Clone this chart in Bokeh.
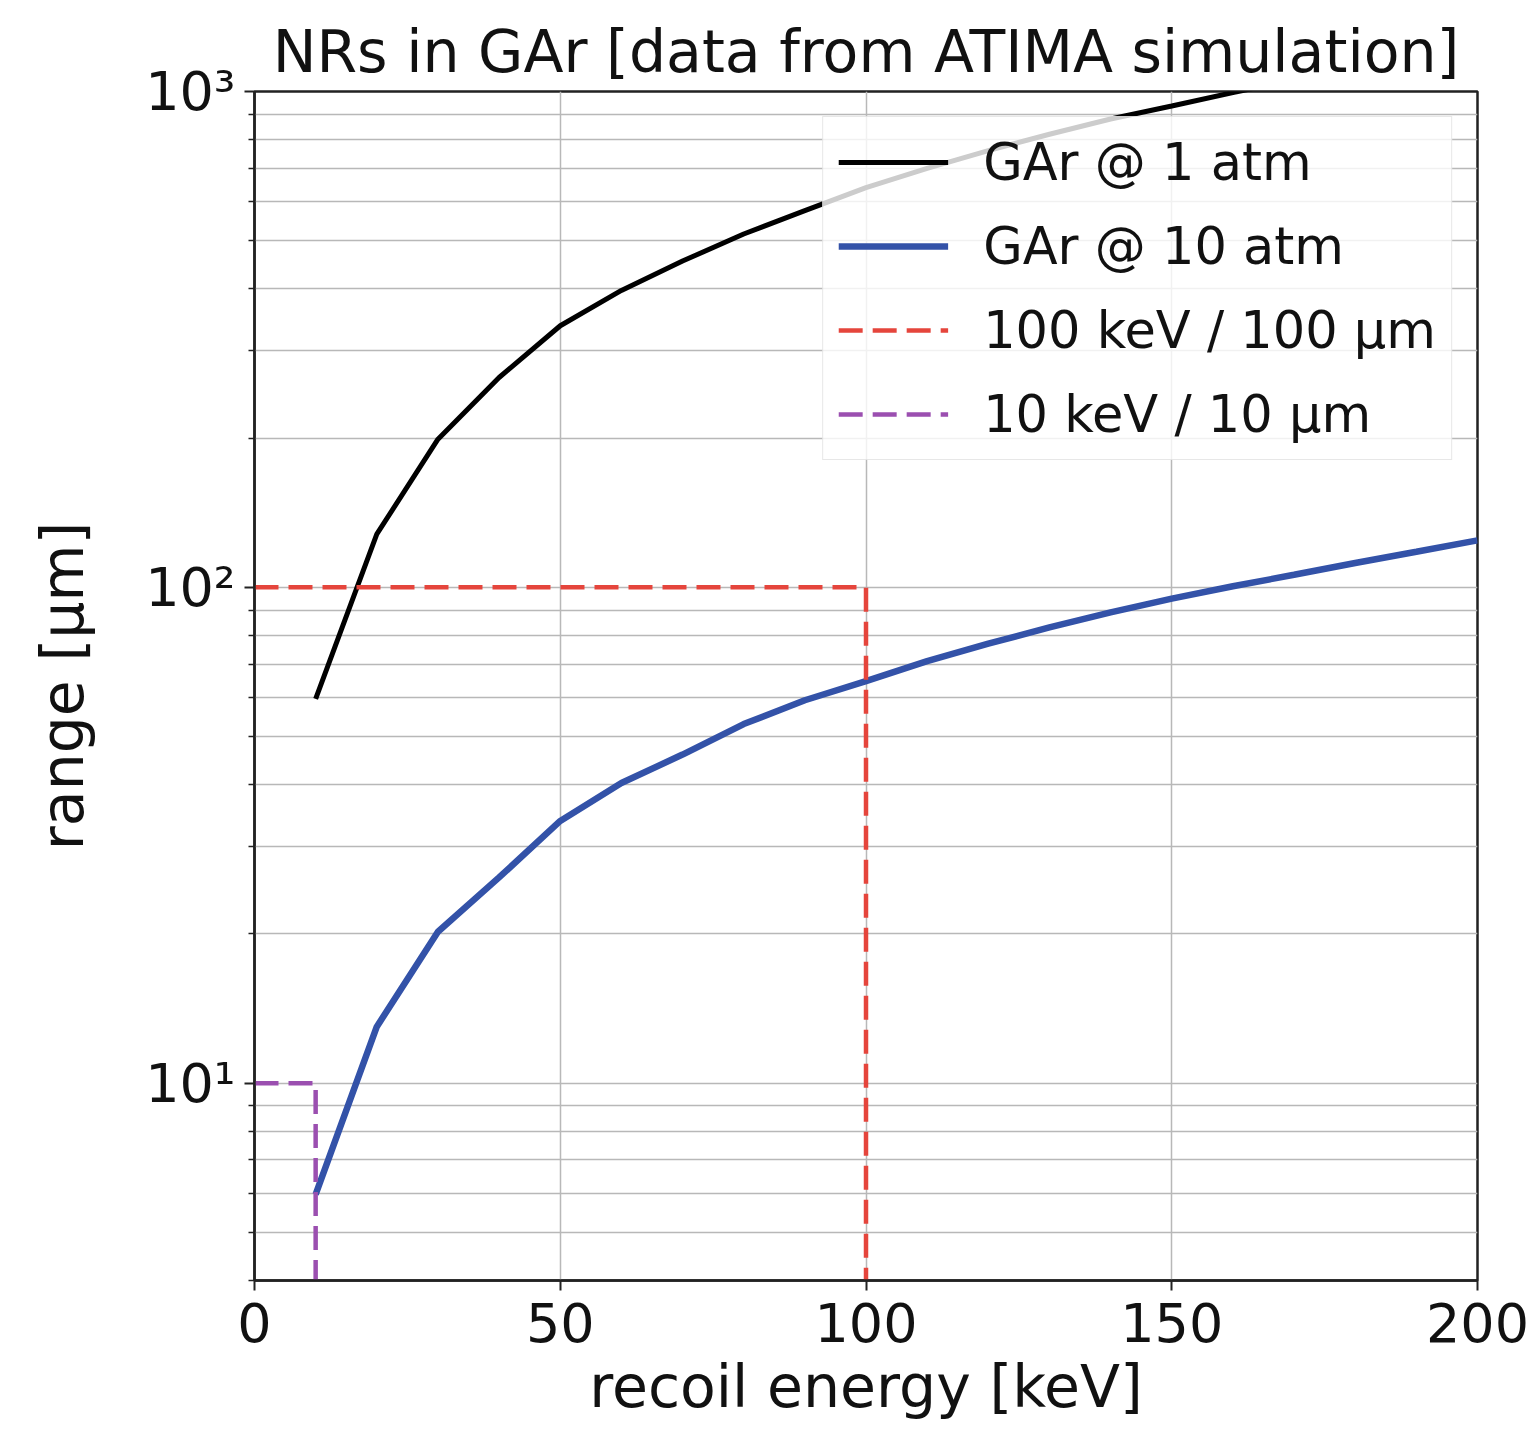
from bokeh.plotting import figure
from bokeh.models import Range1d, FixedTicker, Legend, LegendItem
from bokeh.embed import file_html
from bokeh.resources import INLINE

# ---- data ----
energy_kev = [10, 20, 30, 40, 50, 60, 70, 80, 90, 100, 110, 120, 130, 140, 150, 160, 170, 180, 190, 200]
range_1atm = [59.6, 128, 199, 265, 337, 397, 455, 516, 575, 640, 700, 760, 820, 880, 935, 995, 1055, 1110, 1170, 1230]
range_10atm = [5.97, 13.0, 20.2, 26.0, 33.8, 40.3, 46.0, 53.0, 59.2, 64.7, 71.0, 77.0, 83.0, 89.0, 94.9, 100.5, 106.0, 112.0, 118.0, 124.4]

y_min, y_max = 4, 1000
x_min, x_max = 0, 200

ref100_x = [0, 100, 100]
ref100_y = [100, 100, y_min]
ref10_x = [0, 10, 10]
ref10_y = [10, 10, y_min]

x_ticks = [0, 50, 100, 150, 200]
y_major = [10, 100, 1000]
y_minor = [4, 5, 6, 7, 8, 9, 20, 30, 40, 50, 60, 70, 80, 90, 200, 300, 400, 500, 600, 700, 800, 900]
y_labels = {10: "10¹", 100: "10²", 1000: "10³"}

labels = ["GAr @ 1 atm", "GAr @ 10 atm", "100 keV / 100 μm", "10 keV / 10 μm"]

FONT = "DejaVu Sans"

p = figure(width=1530, height=1423, output_backend="svg", toolbar_location=None,
           y_axis_type="log",
           x_range=Range1d(x_min, x_max), y_range=Range1d(y_min, y_max),
           title="NRs in GAr [data from ATIMA simulation]",
           min_border_left=254, min_border_top=91, min_border_right=53, min_border_bottom=143)

p.title.text_font = FONT
p.title.text_font_size = "58.5px"
p.title.text_font_style = "normal"
p.title.text_color = "#111111"
p.title.align = "center"
p.title.standoff = 12

p.outline_line_color = "#222222"
p.outline_line_width = 2.5
p.background_fill_color = "white"
p.border_fill_color = "white"

# axes
p.xaxis.ticker = FixedTicker(ticks=x_ticks)
p.yaxis.ticker = FixedTicker(ticks=y_major, minor_ticks=y_minor)
p.yaxis.major_label_overrides = y_labels

for ax in (p.xaxis[0], p.yaxis[0]):
    ax.axis_line_color = "#222222"
    ax.axis_line_width = 2.5
    ax.major_tick_line_color = "#222222"
    ax.major_tick_line_width = 2
    ax.major_tick_out = 10
    ax.major_tick_in = 0
    ax.major_label_text_font = FONT
    ax.major_label_text_font_size = "54px"
    ax.major_label_text_color = "#111111"
    ax.axis_label_text_font = FONT
    ax.axis_label_text_font_size = "58.5px"
    ax.axis_label_text_font_style = "normal"
    ax.axis_label_text_color = "#111111"

p.xaxis.minor_tick_line_color = None
p.xaxis.major_label_standoff = 12
p.xaxis.axis_label = "recoil energy [keV]"
p.xaxis.axis_label_standoff = 8

p.yaxis.minor_tick_line_color = "#222222"
p.yaxis.minor_tick_line_width = 1.5
p.yaxis.minor_tick_out = 6
p.yaxis.minor_tick_in = 0
p.yaxis.major_label_standoff = 9
p.yaxis.axis_label = "range [μm]"
p.yaxis.axis_label_standoff = 45

# grid
p.xgrid.grid_line_color = "#b8b8b8"
p.xgrid.grid_line_width = 1.5
p.ygrid.grid_line_color = "#b8b8b8"
p.ygrid.grid_line_width = 1.5
p.ygrid.minor_grid_line_color = "#b8b8b8"
p.ygrid.minor_grid_line_width = 1.5

# data lines
r1 = p.line(energy_kev, range_1atm, line_color="black", line_width=5)
r2 = p.line(energy_kev, range_10atm, line_color="#3352a8", line_width=6.5)
r3 = p.line(ref100_x, ref100_y, line_color="#e5453c", line_width=4.5, line_dash="24 10")
r4 = p.line(ref10_x, ref10_y, line_color="#9b4fb0", line_width=4.5, line_dash="24 10")

legend = Legend(items=[LegendItem(label=labels[0], renderers=[r1]),
                       LegendItem(label=labels[1], renderers=[r2]),
                       LegendItem(label=labels[2], renderers=[r3]),
                       LegendItem(label=labels[3], renderers=[r4])],
                location="top_right")
legend.margin = 25
legend.padding = 15
legend.spacing = 24
legend.glyph_width = 110
legend.glyph_height = 60
legend.label_height = 60
legend.label_standoff = 35
legend.label_text_font = FONT
legend.label_text_font_size = "51px"
legend.label_text_color = "#111111"
legend.border_line_color = "#d0d0d0"
legend.border_line_width = 1.5
legend.background_fill_alpha = 0.8
p.add_layout(legend)

open("out.html", "w").write(file_html(p, INLINE))
